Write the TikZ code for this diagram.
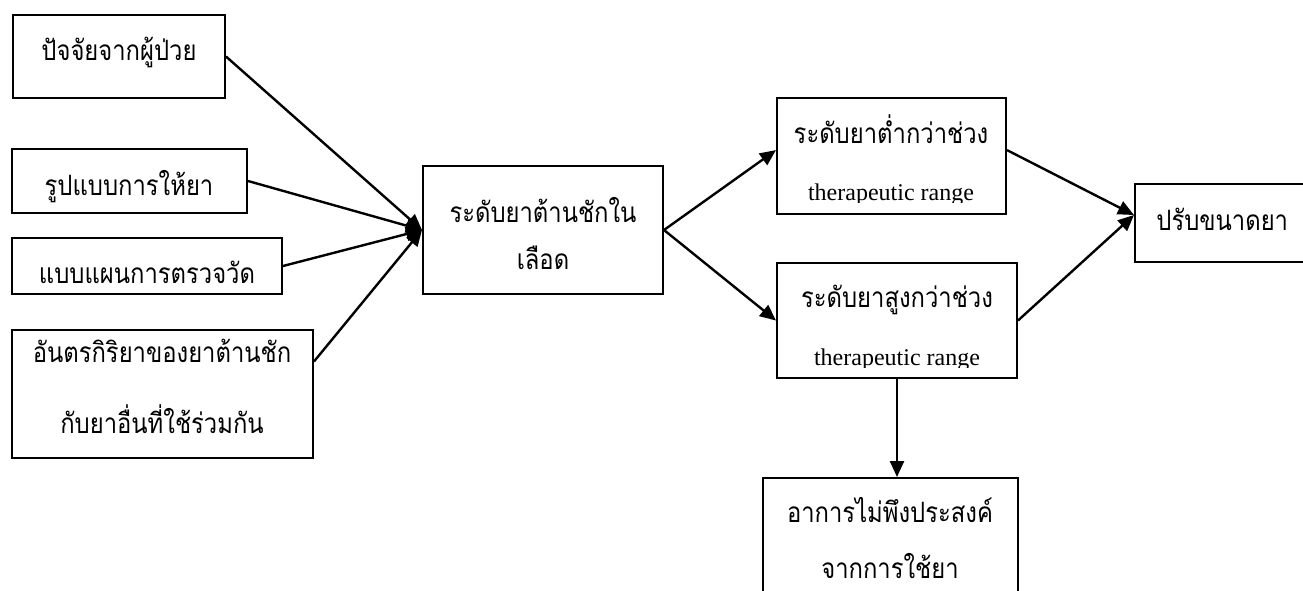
\documentclass[tikz,border=0pt]{standalone}
\usepackage{fontspec}
\setmainfont{Liberation Serif}
\newfontfamily\thai[Script=Thai,FakeStretch=0.85]{Loma}
\usetikzlibrary{arrows.meta,calc,fit}

\tikzset{
  box/.style={draw, line width=1pt, inner sep=0pt},
  txt/.style={anchor=base, inner sep=0pt, font=\thai\fontsize{14}{16}\selectfont},
  eng/.style={anchor=base, inner sep=0pt, font=\fontsize{12}{14}\selectfont},
  link/.style={line width=1.2pt, -{Triangle[length=8pt,width=7pt]}}
}

\begin{document}
\begin{tikzpicture}[x=0.5pt, y=-0.5pt]

\useasboundingbox (0,0) rectangle (1303,590);

% factors on the left
\node [box, fit={(13,15) (225,98)}] (patient) {};
\node at (119,60) [txt] (patient text) {ปัจจัยจากผู้ป่วย};

\node [box, fit={(12,149) (247,213)}] (form) {};
\node at (129,195) [txt] (form text) {รูปแบบการให้ยา};

\node [box, fit={(12,238) (282,294)}] (plan) {};
\node at (147,283) [txt] (plan text) {แบบแผนการตรวจวัด};

\node [box, fit={(12,330) (313,458)}] (inter) {};
\node at (162,362) [txt] (inter text a) {อันตรกิริยาของยาต้านชัก};
\node at (162,433) [txt] (inter text b) {กับยาอื่นที่ใช้ร่วมกัน};

% blood level
\node [box, fit={(423,166) (663,294)}] (level) {};
\node at (543,222) [txt] (level text a) {ระดับยาต้านชักใน};
\node at (543,269) [txt] (level text b) {เลือด};

% below and above the range
\node [box, fit={(777,98) (1006,214)}] (low) {};
\node at (891,143) [txt] (low text) {ระดับยาต่ำกว่าช่วง};
\begin{scope}
\clip (777,170) rectangle (1006,202);
\node at (891,200) [eng] (low range) {therapeutic range};
\end{scope}

\node [box, fit={(777,263) (1017,378)}] (high) {};
\node at (897,307) [txt] (high text) {ระดับยาสูงกว่าช่วง};
\begin{scope}
\clip (777,335) rectangle (1017,367);
\node at (897,365) [eng] (high range) {therapeutic range};
\end{scope}

\node [box, fit={(1135,184) (1330,262)}] (adjust) {};
\node at (1156,230) [txt, anchor=base west] (adjust text) {ปรับขนาดยา};

\node [box, fit={(763,478) (1018,610)}] (side) {};
\node at (890,522) [txt] (side text a) {อาการไม่พึงประสงค์};
\node at (890,578) [txt] (side text b) {จากการใช้ยา};

% connectors
\draw [link] (patient.east) -- (level.west);
\draw [link] (form.east) -- (level.west);
\draw [link] (plan.east) -- (level.west);
\draw [link] ($(inter.north east)!0.25!(inter.south east)$) -- (level.west);

\draw [link] (level.east) -- ($(low.north west)!0.45!(low.south west)$);
\draw [link] (level.east) -- (high.west);

\draw [link] ($(low.north east)!0.45!(low.south east)$) -- ($(adjust.north west)!0.4!(adjust.south west)$);
\draw [link] (high.east) -- ($(adjust.north west)!0.4!(adjust.south west)$);

\draw [link] (high.south) -- (high.south |- side.north);

\end{tikzpicture}
\end{document}
